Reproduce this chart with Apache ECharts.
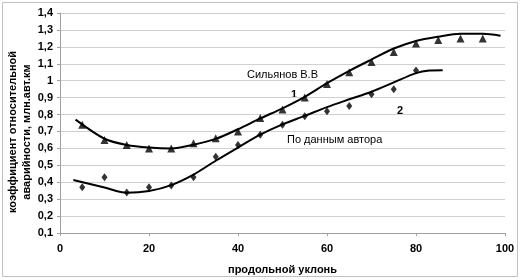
<!DOCTYPE html>
<html>
<head>
<meta charset="utf-8">
<script src="https://cdn.jsdelivr.net/npm/echarts@6/dist/echarts.min.js"></script>
<style>
  html, body { margin: 0; padding: 0; background: #fff; }
  #chart { width: 520px; height: 280px; }
</style>
</head>
<body>
<div id="chart"></div>
<script>
  // точки 1 - Сильянов В.В (треугольники)
  const pts1 = [
    [5, 0.74], [10, 0.65], [15, 0.62], [20, 0.60], [25, 0.60], [30, 0.63],
    [35, 0.66], [40, 0.70], [45, 0.78], [50, 0.83], [55, 0.90], [60, 0.98],
    [65, 1.05], [70, 1.11], [75, 1.17], [80, 1.22], [85, 1.24], [90, 1.25], [95, 1.25]
  ];
  // точки 2 - по данным автора (ромбы)
  const pts2 = [
    [5, 0.37], [10, 0.43], [15, 0.34], [20, 0.37], [25, 0.38], [30, 0.43],
    [35, 0.55], [40, 0.62], [45, 0.68], [50, 0.74], [55, 0.79], [60, 0.82],
    [65, 0.85], [70, 0.92], [75, 0.95], [80, 1.06]
  ];
  // линии тренда
  const trend1 = [
    [3.5, 0.77], [10, 0.657], [15, 0.62], [20, 0.605], [25, 0.60], [30, 0.622],
    [35, 0.656], [40, 0.713], [45, 0.777], [50, 0.837], [55, 0.905], [60, 0.985],
    [65, 1.058], [70, 1.125], [75, 1.19], [80, 1.235], [85, 1.26], [90, 1.277],
    [95, 1.277], [99, 1.266]
  ];
  const trend2 = [
    [3, 0.413], [10, 0.369], [15, 0.338], [20, 0.348], [25, 0.383], [30, 0.445],
    [35, 0.527], [40, 0.605], [45, 0.681], [50, 0.742], [55, 0.792], [60, 0.844],
    [65, 0.89], [70, 0.935], [75, 0.99], [80, 1.045], [83, 1.06], [86, 1.062]
  ];

  const font = '"Liberation Sans", Arial, sans-serif';
  let myChart = echarts.init(document.getElementById('chart'));

  myChart.setOption({
    animation: false,
    grid: { left: 60, right: 15, top: 13, bottom: 43 },
    xAxis: {
      type: 'value',
      min: 0,
      max: 100,
      interval: 20,
      name: 'продольной уклонь',
      nameLocation: 'middle',
      nameGap: 31,
      nameTextStyle: { fontFamily: font, fontWeight: 'bold', fontSize: 11, color: '#000' },
      axisLine: { lineStyle: { color: '#a0a0a0' } },
      axisTick: { show: true, length: 3, lineStyle: { color: '#a0a0a0' } },
      axisLabel: { fontFamily: font, fontWeight: 'bold', fontSize: 11, color: '#000', margin: 10 },
      splitLine: { show: false }
    },
    yAxis: {
      type: 'value',
      min: 0.1,
      max: 1.4,
      interval: 0.1,
      axisLine: { show: true, lineStyle: { color: '#a0a0a0' } },
      axisTick: { show: true, length: 3, lineStyle: { color: '#a0a0a0' } },
      axisLabel: {
        fontFamily: font, fontWeight: 'bold', fontSize: 11, color: '#000', margin: 7,
        formatter: function (v) {
          return String(Number(v.toFixed(1))).replace('.', ',');
        }
      },
      splitLine: { lineStyle: { color: '#d0d0d0' } }
    },
    graphic: [
      {
        type: 'rect',
        shape: { x: 2.5, y: 2.5, width: 515, height: 274 },
        style: { fill: 'none', stroke: '#c0c0c0', lineWidth: 1 },
        silent: true
      },
      {
        type: 'text', x: 13, y: 132, rotation: Math.PI / 2,
        style: {
          text: 'коэффициент относительной', font: 'bold 11px ' + font,
          fill: '#000', align: 'center', verticalAlign: 'middle'
        }
      },
      {
        type: 'text', x: 27, y: 132, rotation: Math.PI / 2,
        style: {
          text: 'аварийности, млн.авт.км', font: 'bold 11px ' + font,
          fill: '#000', align: 'center', verticalAlign: 'middle'
        }
      },
      {
        type: 'text', x: 247, y: 75,
        style: { text: 'Сильянов В.В', font: '11px ' + font, fill: '#000', verticalAlign: 'middle' }
      },
      {
        type: 'text', x: 294, y: 95,
        style: { text: '1', font: 'bold 11px ' + font, fill: '#000', align: 'center', verticalAlign: 'middle' }
      },
      {
        type: 'text', x: 287, y: 140,
        style: { text: 'По данным автора', font: '11px ' + font, fill: '#000', verticalAlign: 'middle' }
      },
      {
        type: 'text', x: 400, y: 111,
        style: { text: '2', font: 'bold 11px ' + font, fill: '#000', align: 'center', verticalAlign: 'middle' }
      }
    ],
    series: [
      {
        name: 'тренд 1',
        type: 'line',
        smooth: 0.3,
        showSymbol: false,
        data: trend1,
        lineStyle: { color: '#000', width: 2 },
        z: 2
      },
      {
        name: 'тренд 2',
        type: 'line',
        smooth: 0.3,
        showSymbol: false,
        data: trend2,
        lineStyle: { color: '#000', width: 2 },
        z: 2
      },
      {
        name: 'Сильянов В.В',
        type: 'scatter',
        symbol: 'triangle',
        symbolSize: 8,
        data: pts1,
        itemStyle: { color: '#000' },
        z: 3
      },
      {
        name: 'По данным автора',
        type: 'scatter',
        symbol: 'diamond',
        symbolSize: [6, 8],
        data: pts2,
        itemStyle: { color: '#000' },
        z: 3
      }
    ]
  });
</script>
</body>
</html>
